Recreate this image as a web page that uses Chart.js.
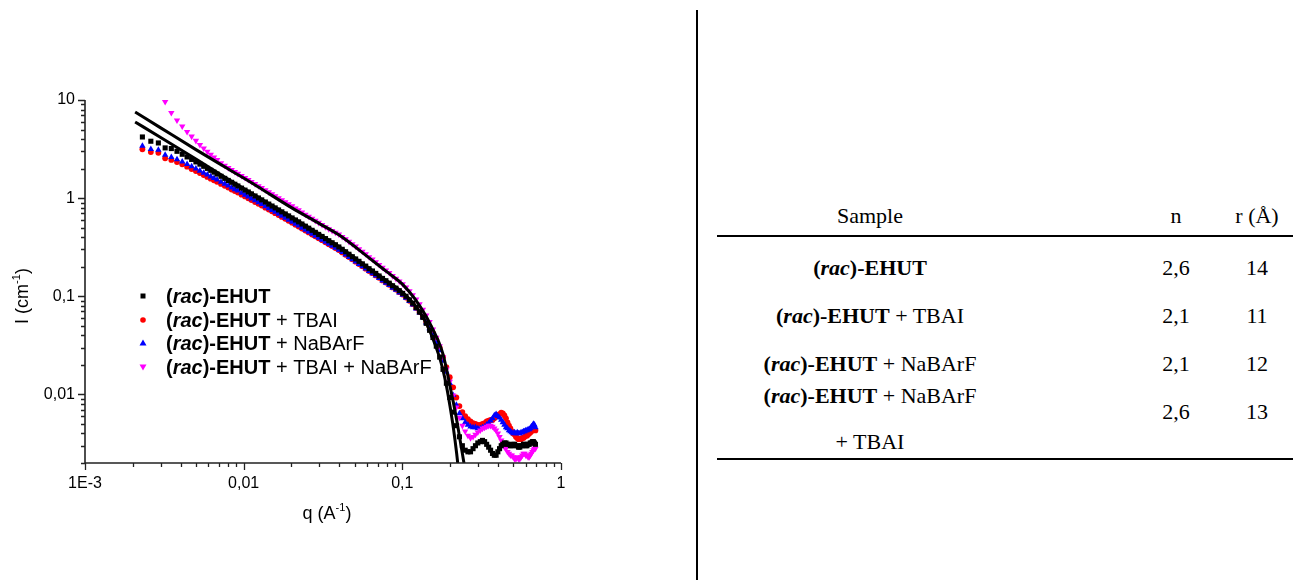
<!DOCTYPE html>
<html>
<head>
<meta charset="utf-8">
<title>SAXS EHUT</title>
<script src="https://cdn.jsdelivr.net/npm/chart.js@4"></script>
<style>
html, body { margin: 0; padding: 0; background: #fff; }
body { width: 1293px; height: 588px; position: relative; overflow: hidden; font-family: "Liberation Serif", "Times New Roman", serif; color: #000; }
#plot { position: absolute; left: 0; top: 0; }
#divider { position: absolute; left: 696px; top: 10px; width: 2px; height: 570px; background: #000; }
.cell { position: absolute; font-size: 22px; white-space: nowrap; transform: translate(-50%, -50%); line-height: 1; }
.rule { position: absolute; left: 717px; width: 576px; height: 2px; background: #000; }
</style>
</head>
<body>
<canvas id="plot" width="640" height="588"></canvas>
<div id="divider"></div>
<div id="table"></div>

<script>
// ---- data ----
const qValues = [
  0.0023, 0.0026, 0.0029, 0.0032, 0.0035, 0.0038, 0.0041, 0.0044, 0.0047, 0.005,
  0.0053, 0.0056, 0.0059, 0.0062, 0.0065, 0.0068, 0.0072, 0.0076, 0.008, 0.0084,
  0.0088, 0.0092, 0.0097, 0.0102, 0.0107, 0.0112, 0.0118, 0.0124, 0.013, 0.0137,
  0.0144, 0.0151, 0.0158, 0.0166, 0.0174, 0.0183, 0.0192, 0.0202, 0.0212, 0.0222,
  0.0233, 0.0245, 0.0257, 0.027, 0.0283, 0.0297, 0.0312, 0.0328, 0.0344, 0.0361,
  0.0379, 0.0398, 0.0418, 0.0439, 0.0461, 0.0484, 0.0508, 0.0533, 0.056, 0.0588,
  0.0617, 0.0648, 0.068, 0.0714, 0.075, 0.0788, 0.0827, 0.0868, 0.0912, 0.0957,
  0.1005, 0.1055, 0.1108, 0.1163, 0.1222, 0.1283, 0.1347, 0.1414, 0.1485, 0.1559,
  0.1637, 0.1719, 0.1805, 0.1895, 0.199, 0.209, 0.219, 0.229, 0.239, 0.249,
  0.259, 0.269, 0.279, 0.289, 0.299, 0.31, 0.32, 0.33, 0.34, 0.35,
  0.36, 0.37, 0.38, 0.39, 0.40, 0.41, 0.42, 0.43, 0.44, 0.45,
  0.46, 0.47, 0.48, 0.49, 0.50, 0.51, 0.52, 0.53, 0.54, 0.55,
  0.56, 0.57, 0.58, 0.59, 0.60, 0.61, 0.62, 0.63, 0.64, 0.65,
  0.66, 0.67, 0.68, 0.69
];

const ehutI = [
  4.2, 3.8, 3.65, 3.25, 3.2, 3.0, 2.8, 2.63, 2.48, 2.34,
  2.22, 2.11, 2.01, 1.92, 1.84, 1.76, 1.67, 1.59, 1.515, 1.45,
  1.385, 1.33, 1.265, 1.207, 1.155, 1.105, 1.052, 1.004, 0.96, 0.913,
  0.87, 0.831, 0.795, 0.758, 0.725, 0.69, 0.659, 0.628, 0.599, 0.573,
  0.545, 0.518, 0.494, 0.47, 0.448, 0.427, 0.407, 0.387, 0.368, 0.351,
  0.335, 0.318, 0.301, 0.284, 0.268, 0.253, 0.24, 0.227, 0.214, 0.203,
  0.191, 0.181, 0.171, 0.161, 0.152, 0.144, 0.136, 0.128, 0.121, 0.114,
  0.107, 0.1, 0.092, 0.085, 0.077, 0.069, 0.061, 0.053, 0.045, 0.038,
  0.031, 0.024, 0.018, 0.013, 0.0093, 0.0066, 0.0048, 0.0037, 0.003, 0.0027,
  0.0026, 0.0026, 0.0028, 0.003, 0.0032, 0.0033, 0.0034, 0.0033, 0.0031, 0.0029,
  0.0027, 0.0025, 0.0024, 0.0024, 0.0026, 0.0028, 0.003, 0.0031, 0.0032, 0.0032,
  0.0031, 0.0031, 0.003, 0.003, 0.0031, 0.0031, 0.003, 0.003, 0.0029, 0.0029,
  0.003, 0.003, 0.0031, 0.0031, 0.003, 0.003, 0.0031, 0.0031, 0.0032, 0.0032,
  0.0033, 0.0033, 0.0032, 0.0031
];

const tbaiI = [
  3.15, 2.95, 2.9, 2.55, 2.45, 2.33, 2.21, 2.09, 1.98, 1.89,
  1.8, 1.72, 1.645, 1.58, 1.52, 1.465, 1.395, 1.335, 1.28, 1.225,
  1.18, 1.14, 1.085, 1.04, 0.995, 0.955, 0.913, 0.875, 0.84, 0.8,
  0.765, 0.733, 0.703, 0.672, 0.643, 0.615, 0.588, 0.562, 0.536, 0.514,
  0.49, 0.467, 0.447, 0.426, 0.408, 0.39, 0.373, 0.355, 0.339, 0.325,
  0.31, 0.296, 0.28, 0.265, 0.251, 0.238, 0.225, 0.213, 0.202, 0.191,
  0.181, 0.172, 0.163, 0.154, 0.145, 0.138, 0.131, 0.123, 0.117, 0.11,
  0.104, 0.097, 0.09, 0.083, 0.076, 0.069, 0.062, 0.055, 0.049, 0.042,
  0.036, 0.03, 0.024, 0.019, 0.015, 0.0118, 0.0093, 0.0076, 0.0066, 0.006,
  0.0056, 0.0053, 0.0051, 0.005, 0.0049, 0.0049, 0.005, 0.0051, 0.0053, 0.0054,
  0.0055, 0.0055, 0.0057, 0.006, 0.0062, 0.0063, 0.0065, 0.0064, 0.0061, 0.0057,
  0.0052, 0.0048, 0.0045, 0.0042, 0.004, 0.0039, 0.0037, 0.0036, 0.0035, 0.0035,
  0.0035, 0.0036, 0.0036, 0.0037, 0.0038, 0.0038, 0.0039, 0.004, 0.0041, 0.0042,
  0.0044, 0.0045, 0.0044, 0.0043
];

const nabarfI = [
  3.4, 3.15, 3.1, 2.75, 2.62, 2.48, 2.35, 2.22, 2.1, 2.0,
  1.9, 1.81, 1.73, 1.66, 1.6, 1.54, 1.46, 1.4, 1.34, 1.28,
  1.23, 1.19, 1.13, 1.08, 1.035, 0.99, 0.946, 0.904, 0.866, 0.825,
  0.788, 0.754, 0.722, 0.689, 0.659, 0.629, 0.601, 0.573, 0.546, 0.523,
  0.498, 0.474, 0.453, 0.431, 0.412, 0.394, 0.376, 0.358, 0.341, 0.327,
  0.312, 0.297, 0.281, 0.266, 0.251, 0.238, 0.225, 0.213, 0.201, 0.191,
  0.18, 0.171, 0.162, 0.153, 0.144, 0.137, 0.13, 0.122, 0.116, 0.109,
  0.103, 0.096, 0.089, 0.082, 0.075, 0.068, 0.061, 0.054, 0.047, 0.04,
  0.034, 0.028, 0.022, 0.017, 0.013, 0.0098, 0.0078, 0.0064, 0.0057, 0.0052,
  0.0049, 0.0047, 0.0046, 0.0046, 0.0045, 0.0045, 0.0046, 0.0047, 0.0049, 0.0051,
  0.0054, 0.0057, 0.0061, 0.0063, 0.006, 0.0058, 0.0055, 0.0052, 0.0049, 0.0046,
  0.0045, 0.0043, 0.0042, 0.0041, 0.004, 0.0041, 0.004, 0.0041, 0.004, 0.004,
  0.0041, 0.0041, 0.0042, 0.0042, 0.0043, 0.0043, 0.0044, 0.0044, 0.0045, 0.0047,
  0.0048, 0.005, 0.0049, 0.0046
];

const tbaiNabarfI = [
  null, null, null, 9.6, 7.4, 6.2, 5.4, 4.75, 4.25, 3.85,
  3.5, 3.22, 2.98, 2.78, 2.6, 2.45, 2.28, 2.15, 2.03, 1.94,
  1.85, 1.775, 1.686, 1.607, 1.534, 1.468, 1.395, 1.33, 1.27, 1.208,
  1.15, 1.099, 1.05, 1.001, 0.957, 0.911, 0.87, 0.828, 0.789, 0.755,
  0.718, 0.681, 0.65, 0.618, 0.589, 0.562, 0.534, 0.508, 0.484, 0.465,
  0.446, 0.427, 0.404, 0.382, 0.36, 0.34, 0.322, 0.302, 0.285, 0.269,
  0.251, 0.238, 0.223, 0.209, 0.196, 0.184, 0.173, 0.161, 0.151, 0.142,
  0.133, 0.123, 0.113, 0.103, 0.093, 0.083, 0.073, 0.064, 0.055, 0.046,
  0.038, 0.031, 0.024, 0.018, 0.0135, 0.0098, 0.0074, 0.0058, 0.0048, 0.0042,
  0.0038, 0.0036, 0.0037, 0.0039, 0.0041, 0.0043, 0.0045, 0.0046, 0.0047, 0.0048,
  0.0048, 0.0047, 0.0045, 0.0043, 0.004, 0.0037, 0.0034, 0.0031, 0.0029, 0.0028,
  0.0026, 0.0025, 0.0024, 0.0024, 0.0023, 0.0022, 0.0022, 0.0023, 0.0022, 0.0022,
  0.0023, 0.0024, 0.0025, 0.0025, 0.0024, 0.0024, 0.0023, 0.0023, 0.0024, 0.0025,
  0.0026, 0.0027, 0.0028, 0.0028
];

// fitted curves
const fitQ = [0.00207, 0.003, 0.005, 0.008, 0.012, 0.02, 0.03, 0.04, 0.06, 0.08, 0.1, 0.12, 0.14,
              0.15, 0.16, 0.17, 0.18, 0.19, 0.2, 0.21, 0.22, 0.23, 0.24, 0.25, 0.26];
const fitUpperI = [7.54, 5.2, 3.12, 1.98, 1.34, 0.8, 0.55, 0.42, 0.255, 0.177, 0.133, 0.094, 0.064,
                   0.052, 0.042, 0.034, 0.026, 0.018, 0.012, 0.0082, 0.0055, 0.0036, 0.0024, 0.0016, 0.001];
const fitLowerI = [5.97, 4.15, 2.5, 1.56, 1.05, 0.64, 0.43, 0.32, 0.2, 0.143, 0.11, 0.081, 0.055,
                   0.043, 0.033, 0.025, 0.018, 0.012, 0.0075, 0.0045, 0.0025, 0.0013, 0.0007, 0.0004, 0.0002];

const seriesSuffix = ['', ' + TBAI', ' + NaBArF', ' + TBAI + NaBArF'];
const seriesColors = ['#000000', '#ff0000', '#0000ff', '#ff00ff'];

const xMajorTicks = [0.001, 0.01, 0.1, 1];
const xTickLabels = ['1E-3', '0,01', '0,1', '1'];
const yMajorTicks = [0.01, 0.1, 1, 10];
const yTickLabels = ['0,01', '0,1', '1', '10'];

// table on the right
const tableHeaders = ['Sample', 'n', 'r (Å)'];
const sampleSuffix = [[''], [' + TBAI'], [' + NaBArF'], [' + NaBArF', '+ TBAI']];
const nValues = ['2,6', '2,1', '2,1', '2,6'];
const rValues = ['14', '11', '12', '13'];

// ---- helpers ----
function toPoints(xs, ys) {
  const pts = [];
  xs.forEach((x, i) => { if (ys[i] != null) pts.push({ x: x, y: ys[i] }); });
  return pts;
}

function isDecade(v) {
  const l = Math.log10(v);
  return Math.abs(l - Math.round(l)) < 1e-6;
}

const SANS = '"Liberation Sans", Arial, sans-serif';

// ---- decorations: axes, minor ticks, titles, legend ----
const decor = {
  id: 'decor',
  afterDraw(chart) {
    const ctx = chart.ctx;
    const xs = chart.scales.x, ys = chart.scales.y;
    const a = chart.chartArea;
    ctx.save();
    ctx.strokeStyle = '#222';
    ctx.lineWidth = 1.6;
    ctx.beginPath();
    ctx.moveTo(a.left, a.top);
    ctx.lineTo(a.left, a.bottom);
    ctx.lineTo(a.right, a.bottom);
    ctx.stroke();

    ctx.lineWidth = 1.3;
    ctx.beginPath();
    for (let e = -3; e <= 0; e++) {
      for (let m = 1; m <= 9; m++) {
        const v = m * Math.pow(10, e);
        if (v > 1.0001) break;
        const px = Math.round(xs.getPixelForValue(v)) + 0.5;
        const len = isDecade(v) ? 7 : 4;
        ctx.moveTo(px, a.bottom);
        ctx.lineTo(px, a.bottom + len);
      }
    }
    for (let e = -3; e <= 1; e++) {
      for (let m = 1; m <= 9; m++) {
        const v = m * Math.pow(10, e);
        if (v < 0.002 - 1e-9 || v > 10.0001) continue;
        const py = Math.round(ys.getPixelForValue(v)) + 0.5;
        const len = isDecade(v) ? 7 : 4;
        ctx.moveTo(a.left, py);
        ctx.lineTo(a.left - len, py);
      }
    }
    ctx.stroke();

    // axis titles with superscript
    function titleWithSup(base, sup, tail, size) {
      ctx.font = size + 'px ' + SANS;
      const w1 = ctx.measureText(base).width;
      ctx.font = Math.round(size * 0.6) + 'px ' + SANS;
      const w2 = ctx.measureText(sup).width;
      ctx.font = size + 'px ' + SANS;
      const w3 = ctx.measureText(tail).width;
      let x = -(w1 + w2 + w3) / 2;
      ctx.fillStyle = '#000';
      ctx.textBaseline = 'middle';
      ctx.textAlign = 'left';
      ctx.fillText(base, x, 0);
      x += w1;
      ctx.font = Math.round(size * 0.6) + 'px ' + SANS;
      ctx.fillText(sup, x, -size * 0.35);
      x += w2;
      ctx.font = size + 'px ' + SANS;
      ctx.fillText(tail, x, 0);
    }
    ctx.save();
    ctx.translate((a.left + a.right) / 2 + 4, 514);
    titleWithSup('q (A', '-1', ')', 18);
    ctx.restore();
    ctx.save();
    ctx.translate(23, 296);
    ctx.rotate(-Math.PI / 2);
    titleWithSup('I (cm', '-1', ')', 18);
    ctx.restore();

    // legend
    const rowY = [296, 320, 343, 367];
    const markX = 143, textX = 166;
    seriesSuffix.forEach((suffix, i) => {
      const y = rowY[i];
      ctx.fillStyle = seriesColors[i];
      ctx.beginPath();
      if (i === 0) {
        ctx.rect(markX - 2.5, y - 2.5, 5, 5);
      } else if (i === 1) {
        ctx.arc(markX, y, 2.8, 0, Math.PI * 2);
      } else if (i === 2) {
        ctx.moveTo(markX, y - 3.5); ctx.lineTo(markX + 3.5, y + 2.5); ctx.lineTo(markX - 3.5, y + 2.5);
      } else {
        ctx.moveTo(markX, y + 3.5); ctx.lineTo(markX + 3.5, y - 2.5); ctx.lineTo(markX - 3.5, y - 2.5);
      }
      ctx.closePath();
      ctx.fill();

      const parts = [
        { t: '(', f: 'bold 20px ' + SANS },
        { t: 'rac', f: 'italic bold 20px ' + SANS },
        { t: ')-EHUT', f: 'bold 20px ' + SANS },
        { t: suffix, f: '20px ' + SANS }
      ];
      let x = textX;
      ctx.fillStyle = '#000';
      ctx.textBaseline = 'middle';
      ctx.textAlign = 'left';
      parts.forEach(p => {
        ctx.font = p.f;
        ctx.fillText(p.t, x, y + 1);
        x += ctx.measureText(p.t).width;
      });
    });
    ctx.restore();
  }
};

// ---- chart ----
const pointSeries = [
  { label: '(rac)-EHUT', data: toPoints(qValues, ehutI), pointStyle: 'rect', pointRadius: 3.6, order: 1 },
  { label: '(rac)-EHUT + TBAI', data: toPoints(qValues, tbaiI), pointStyle: 'circle', pointRadius: 2.9, order: 4 },
  { label: '(rac)-EHUT + NaBArF', data: toPoints(qValues, nabarfI), pointStyle: 'triangle', pointRadius: 3.7, order: 3 },
  { label: '(rac)-EHUT + TBAI + NaBArF', data: toPoints(qValues, tbaiNabarfI), pointStyle: 'triangle', rotation: 180, pointRadius: 3.7, order: 2 }
].map((s, i) => Object.assign(s, {
  backgroundColor: seriesColors[i],
  borderColor: seriesColors[i],
  borderWidth: 0,
  showLine: false,
  clip: false
}));

const fitSeries = [fitUpperI, fitLowerI].map((ys, i) => ({
  label: 'fit ' + (i + 1),
  data: toPoints(fitQ, ys),
  showLine: true,
  pointRadius: 0,
  borderColor: '#000',
  borderWidth: 3,
  cubicInterpolationMode: 'monotone',
  order: 0
}));

new Chart(document.getElementById('plot'), {
  type: 'scatter',
  data: { datasets: pointSeries.concat(fitSeries) },
  options: {
    responsive: false,
    devicePixelRatio: 1,
    animation: false,
    layout: { padding: { left: 0, right: 79, top: 100, bottom: 0 } },
    plugins: { legend: { display: false }, tooltip: { enabled: false } },
    scales: {
      x: {
        type: 'logarithmic',
        position: 'bottom',
        min: 0.001,
        max: 1,
        grid: { display: false, drawTicks: false },
        border: { display: false },
        afterBuildTicks: s => { s.ticks = xMajorTicks.map(v => ({ value: v })); },
        afterFit: s => { s.height = 125; },
        ticks: {
          autoSkip: false,
          maxRotation: 0,
          padding: 11,
          color: '#000',
          font: { family: SANS, size: 16 },
          callback: v => { const k = xMajorTicks.indexOf(v); return k >= 0 ? xTickLabels[k] : ''; }
        }
      },
      y: {
        type: 'logarithmic',
        min: 0.002,
        max: 10,
        grid: { display: false, drawTicks: false },
        border: { display: false },
        afterBuildTicks: s => { s.ticks = yMajorTicks.map(v => ({ value: v })); },
        afterFit: s => { s.width = 85; },
        ticks: {
          autoSkip: false,
          padding: 10,
          color: '#000',
          font: { family: SANS, size: 16 },
          callback: v => { const k = yMajorTicks.indexOf(v); return k >= 0 ? yTickLabels[k] : ''; }
        }
      }
    }
  },
  plugins: [decor]
});

// ---- table ----
const tbl = document.getElementById('table');
function addCell(html, x, y) {
  const d = document.createElement('div');
  d.className = 'cell';
  d.style.left = x + 'px';
  d.style.top = y + 'px';
  d.innerHTML = html;
  tbl.appendChild(d);
}
function addRule(y) {
  const d = document.createElement('div');
  d.className = 'rule';
  d.style.top = y + 'px';
  tbl.appendChild(d);
}
const colX = [870, 1176, 1257];
tableHeaders.forEach((h, i) => addCell(h, colX[i], 216));
addRule(235);
const rowY = [268, 316, 364, 412];
sampleSuffix.forEach((lines, i) => {
  if (lines.length === 1) {
    addCell('<b>(<i>rac</i>)-EHUT</b>' + lines[0], colX[0], rowY[i]);
  } else {
    addCell('<b>(<i>rac</i>)-EHUT</b>' + lines[0], colX[0], 396);
    addCell(lines[1], colX[0], 442);
  }
  addCell(nValues[i], colX[1], rowY[i]);
  addCell(rValues[i], colX[2], rowY[i]);
});
addRule(458);
</script>
</body>
</html>
